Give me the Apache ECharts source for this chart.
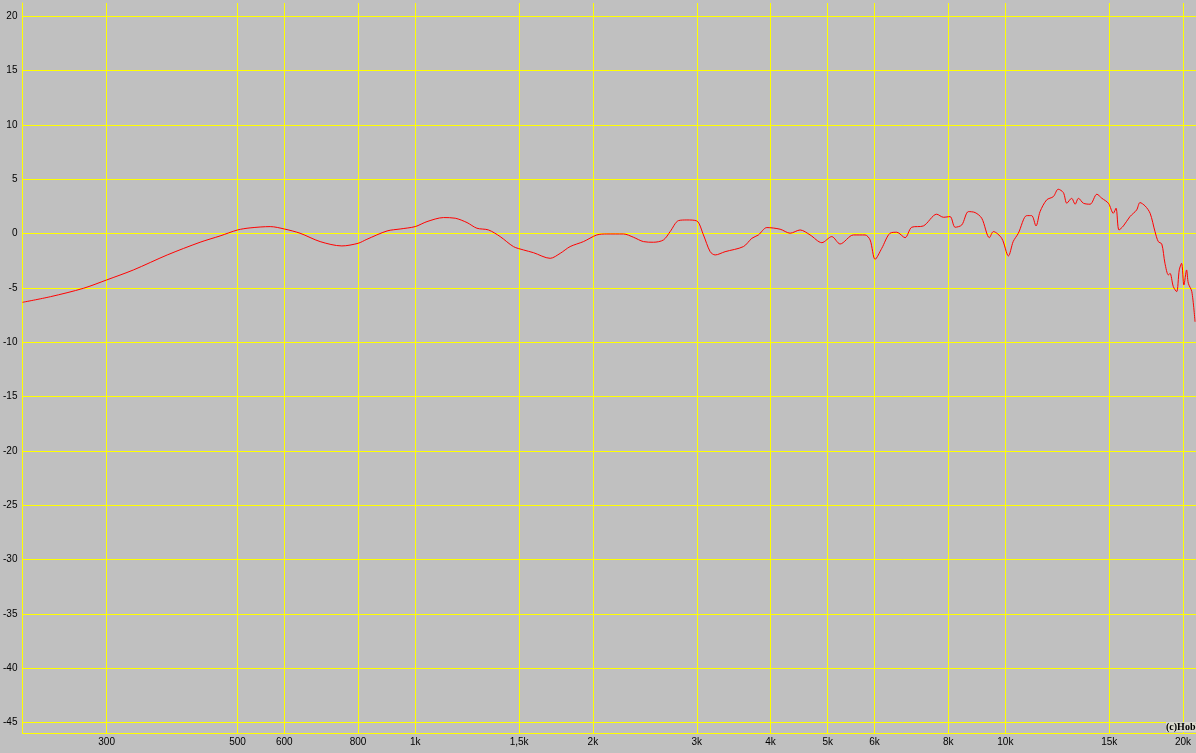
<!DOCTYPE html>
<html><head><meta charset="utf-8">
<script src="https://cdn.jsdelivr.net/npm/echarts@6/dist/echarts.min.js"></script>
<style>html,body{margin:0;padding:0;background:#C0C0C0;overflow:hidden}#c{width:1196px;height:753px}</style>
</head><body><div id="c"></div>
<script>
// Frequency (Hz)
const freqHz = [216,241,274,300,333,380,432,467,500,525,568,600,638,690,751,800,828,896,943,
1000,1047,1117,1169,1224,1272,1331,1393,1467,1526,1586,1693,1761,1830,1928,2031,2112,2254,2343,2436,2533,2634,2704,2793,2886,
3000,3079,3161,3223,3350,3599,3719,3815,3943,4153,4318,4490,4669,4887,5080,5248,5527,5785,5900,6016,6174,6377,6546,6762,6940,7262,
7650,7853,8060,8220,8436,8659,8887,9120,9396,9544,9860,10120,10310,10520,10870,11080,11270,11450,11750,12060,12290,12540,12710,
12950,13130,13300,13560,13920,14290,14570,14950,15240,15400,15580,15850,16260,16690,16910,17250,17590,17930,18160,18410,18640,
18890,19010,19260,19510,19710,19890,20070,20280,20420,20700,20960];
// Level (dB)
const levelDb = [-6.33,-5.81,-5.04,-4.27,-3.35,-1.97,-0.80,-0.22,0.33,0.52,0.64,0.42,0.03,-0.74,-1.14,-0.90,-0.53,0.24,0.42,
0.64,1.10,1.47,1.41,1.01,0.49,0.33,-0.28,-1.20,-1.51,-1.76,-2.28,-1.82,-1.20,-0.74,-0.13,-0.04,-0.04,-0.34,-0.74,-0.80,-0.59,0.18,1.19,1.25,
1.16,-0.13,-1.67,-1.97,-1.67,-1.20,-0.44,-0.13,0.55,0.40,0.03,0.33,-0.13,-0.84,-0.28,-0.96,-0.13,-0.13,-0.59,-2.37,-1.36,0.03,0.12,-0.38,0.58,0.70,
1.78,1.50,1.56,0.58,0.79,2.02,1.93,1.41,-0.38,0.18,-0.44,-2.06,-0.74,0.03,1.65,1.65,0.70,2.02,3.10,3.40,4.08,3.77,2.79,
3.25,2.70,3.25,2.79,2.70,3.62,3.25,2.79,1.87,2.33,0.33,0.70,1.56,2.17,2.85,2.54,1.87,0.18,-0.74,-0.96,-2.74,
-3.81,-3.66,-4.89,-5.35,-3.35,-2.74,-4.74,-3.35,-4.58,-5.35,-8.12];

const xTickHz = [300,500,600,800,1000,1500,2000,3000,4000,5000,6000,8000,10000,15000,20000];
const xTickLabels = ['300','500','600','800','1k','1,5k','2k','3k','4k','5k','6k','8k','10k','15k','20k'];
const yTicks = [-45,-40,-35,-30,-25,-20,-15,-10,-5,0,5,10,15,20];
const freqRange = [216, 21040];
const dbRange = [-45.97, 21.22];

const lg = Math.log10;
const xCustom = xTickHz.map(lg);
const chart = echarts.init(document.getElementById('c'), null, {renderer: 'canvas'});
const yellow = '#FFFF00';
chart.setOption({
  animation: false,
  backgroundColor: '#C0C0C0',
  grid: {left: 22, right: 0, top: 3, bottom: 20, containLabel: false},
  xAxis: {
    type: 'value', min: lg(freqRange[0]), max: lg(freqRange[1]),
    axisLine: {show: true, onZero: false, lineStyle: {color: yellow, width: 1}},
    axisTick: {show: false, customValues: xCustom},
    splitLine: {show: true, lineStyle: {color: yellow, width: 1}},
    axisLabel: {
      customValues: xCustom, color: '#000', fontSize: 10, fontFamily: 'Liberation Sans', margin: 4,
      formatter: v => { const i = xCustom.findIndex(c => Math.abs(c - v) < 1e-6); return i >= 0 ? xTickLabels[i] : ''; }
    }
  },
  yAxis: {
    type: 'value', min: dbRange[0], max: dbRange[1],
    axisLine: {show: true, onZero: false, lineStyle: {color: yellow, width: 1}},
    axisTick: {show: false, customValues: yTicks},
    splitLine: {show: true, lineStyle: {color: yellow, width: 1}},
    axisLabel: {customValues: yTicks, color: '#000', fontSize: 10, fontFamily: 'Liberation Sans', margin: 5}
  },
  graphic: [{
    type: 'text', left: 1166, top: 722, z: 100,
    style: {text: '(c)Hobb', font: 'bold 10px "Liberation Serif"', fill: '#000', backgroundColor: '#D8D8CC'}
  }],
  series: [{
    type: 'line', showSymbol: false, smooth: 0.3, clip: true,
    data: freqHz.map((f, i) => [lg(f), levelDb[i]]),
    lineStyle: {color: '#FF0000', width: 1}
  }]
});
</script>
</body></html>
